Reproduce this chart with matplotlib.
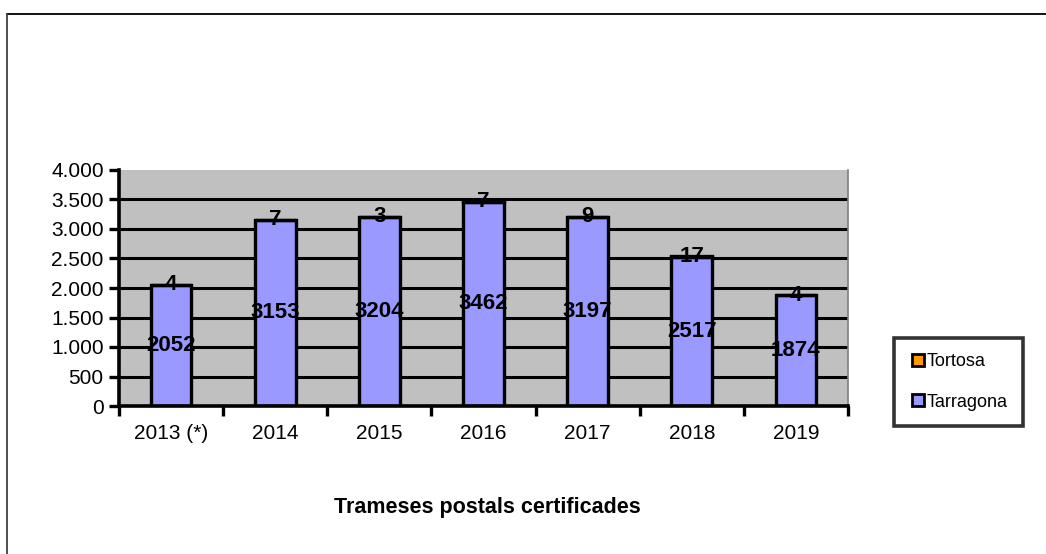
import matplotlib
matplotlib.use("Agg")
import matplotlib.pyplot as plt
from matplotlib.lines import Line2D
from matplotlib.ticker import FuncFormatter, MultipleLocator
import numpy as np

categories = ["2013 (*)", "2014", "2015", "2016", "2017", "2018", "2019"]
tarragona = [2052, 3153, 3204, 3462, 3197, 2517, 1874]
tortosa = [4, 7, 3, 7, 9, 17, 4]
series_names = ["Tortosa", "Tarragona"]
title = "Trameses postals certificades"

plt.rcParams['font.family'] = ['Liberation Sans', 'DejaVu Sans']

W, H = 1046, 554
fig = plt.figure(figsize=(W / 100, H / 100), dpi=100)
fig.patch.set_facecolor("white")

# outer frame lines
fig.add_artist(Line2D([7 / W, 1.0], [1 - 14 / H, 1 - 14 / H], transform=fig.transFigure, color="black", lw=1.3))
fig.add_artist(Line2D([7 / W, 7 / W], [0, 1 - 14 / H], transform=fig.transFigure, color="#404040", lw=1.3))

ax = fig.add_axes([119 / W, 1 - 406 / H, (848 - 119) / W, (406 - 170) / H])
ax.set_facecolor("#C0C0C0")

x = np.arange(len(categories))
width = 0.39
c_tar = "#9999FF"
c_tor = "#FF9900"

for yv in range(500, 4000, 500):
    ax.axhline(yv, color="black", lw=2.2, zorder=1)

b1 = ax.bar(x, tarragona, width, color=c_tar, edgecolor="black", linewidth=2.4, zorder=2)
b2 = ax.bar(x, tortosa, width, bottom=tarragona, color=c_tor, edgecolor="black", linewidth=2.4, zorder=2)

for xi, t, o in zip(x, tarragona, tortosa):
    ax.text(xi, t / 2, str(t), ha="center", va="center", fontsize=16, fontweight="bold", zorder=3)
    ax.text(xi, t + o, str(o), ha="center", va="center", fontsize=16, fontweight="bold", zorder=3)

ax.set_xlim(-0.5, len(categories) - 0.5)
ax.set_ylim(0, 4000)
ax.yaxis.set_major_locator(MultipleLocator(500))
ax.yaxis.set_major_formatter(FuncFormatter(lambda v, p: f"{int(v):,}".replace(",", ".")))
ax.set_xticks(x)
ax.set_xticklabels(categories)
ax.set_xticks(np.arange(-0.5, len(categories), 1.0), minor=True)
ax.tick_params(axis="x", which="major", length=0, pad=13, labelsize=15)
ax.tick_params(axis="x", which="minor", length=7, width=2.4, direction="out", color="black")
ax.tick_params(axis="y", length=7, width=2.4, direction="out", labelsize=15, pad=4)

for s in ["left", "bottom"]:
    ax.spines[s].set_linewidth(2.6)
    ax.spines[s].set_color("black")
ax.spines["top"].set_visible(False)
ax.spines["right"].set_color("#808080")
ax.spines["right"].set_linewidth(1.2)

fig.text(487 / W, 1 - 508 / H, title, ha="center", va="center", fontsize=15.5, fontweight="bold")

handles = [
    Line2D([], [], linestyle="none", marker="s", markersize=8.5, markerfacecolor=c_tor, markeredgecolor="black", markeredgewidth=2.0),
    Line2D([], [], linestyle="none", marker="s", markersize=8.5, markerfacecolor=c_tar, markeredgecolor="black", markeredgewidth=2.0),
]
leg = fig.legend(handles, series_names, loc="center", bbox_to_anchor=(958.5 / W, 1 - 382 / H),
                 fontsize=13, frameon=True, fancybox=False, edgecolor="black", labelspacing=1.3,
                 handletextpad=0.05, handlelength=0.9, borderpad=0.85, borderaxespad=0)
leg.get_frame().set_linewidth(2.6)

fig.savefig("out.png", dpi=100, facecolor="white")
